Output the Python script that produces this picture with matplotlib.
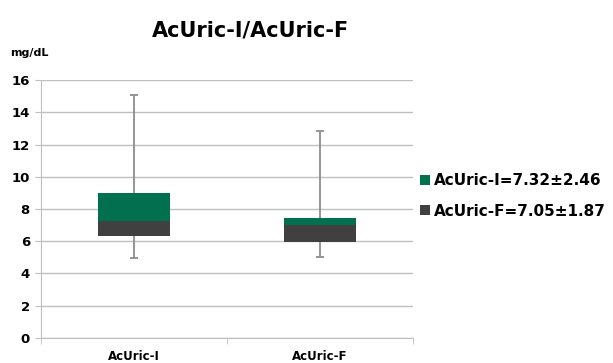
import matplotlib.pyplot as plt
import numpy as np

categories = ['AcUric-I', 'AcUric-F']
q1 = [6.35, 5.94]
median = [7.27, 7.02]
q3 = [8.99, 7.47]
mins = [4.97, 5.05]
maxs = [15.05, 12.86]
legend_labels = ['AcUric-I=7.32±2.46', 'AcUric-F=7.05±1.87']

green = '#00704f'
dark = '#404040'
grid_c = '#bfbfbf'
whisk_c = '#8c8c8c'

fig = plt.figure(figsize=(6.13, 3.63), dpi=100)
ax = fig.add_axes([0.0669, 0.0689, 0.6068, 0.7107])

x = np.arange(len(categories))
q1 = np.array(q1); median = np.array(median); q3 = np.array(q3)

# whiskers behind the boxes
ax.errorbar(x, median, yerr=[median - np.array(mins), np.array(maxs) - median],
            fmt='none', ecolor=whisk_c, elinewidth=1.3, capsize=3, capthick=1.3, zorder=2)
b_dark = ax.bar(x, median - q1, bottom=q1, width=0.39, color=dark, zorder=3)
b_green = ax.bar(x, q3 - median, bottom=median, width=0.39, color=green, zorder=3)

ax.set_xlim(-0.5, 1.5)
ax.set_ylim(0, 16)
ax.set_yticks(range(0, 17, 2))
ax.set_xticks(x)
ax.set_xticklabels(categories, fontweight='bold', fontsize=8.5)
ax.set_xticks([-0.5, 0.5, 1.5], minor=True)
ax.tick_params(axis='x', which='major', length=0, pad=9)
ax.tick_params(axis='x', which='minor', length=4, color=grid_c, direction='out')
ax.tick_params(axis='y', length=4, color=grid_c, pad=4, labelsize=9.5)
for lab in ax.get_yticklabels():
    lab.set_fontweight('bold')
ax.yaxis.grid(True, color=grid_c, lw=1.0, zorder=0)
ax.set_axisbelow(True)
for s in ['top', 'right']:
    ax.spines[s].set_visible(False)
ax.spines['left'].set_color(grid_c)
ax.spines['bottom'].set_color(grid_c)

fig.text(0.408, 0.915, 'AcUric-I/AcUric-F', ha='center', va='center',
         fontsize=15, fontweight='bold')
fig.text(0.016, 0.853, 'mg/dL', ha='left', va='center', fontsize=8, fontweight='bold')

fig.legend([b_green, b_dark], legend_labels, loc='center left',
           bbox_to_anchor=(0.675, 0.46), frameon=False,
           prop={'weight': 'bold', 'size': 11}, handlelength=0.65, handleheight=0.65,
           handletextpad=0.25, labelspacing=1.0, borderaxespad=0)

fig.savefig('out.png', dpi=100)
